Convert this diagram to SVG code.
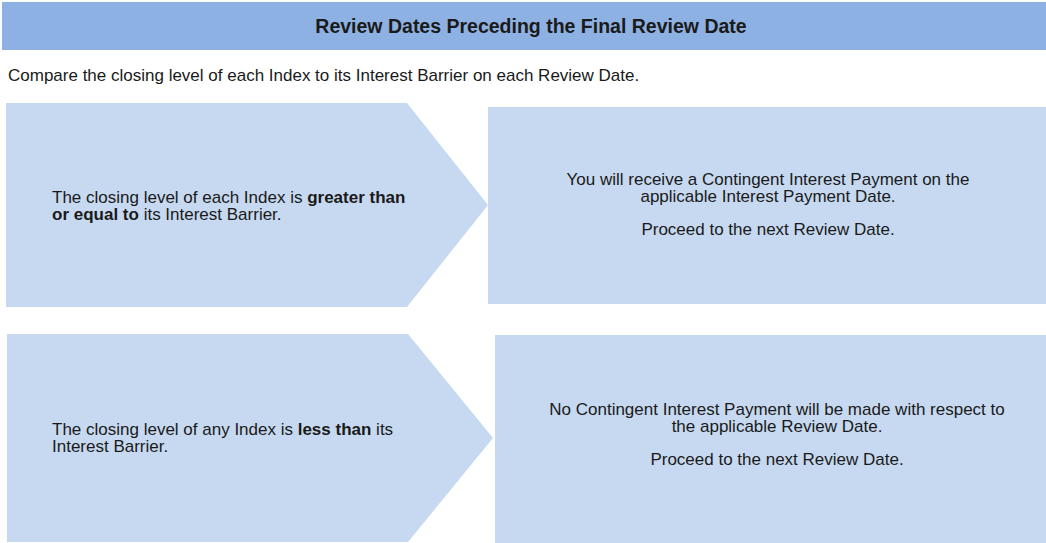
<svg xmlns="http://www.w3.org/2000/svg" width="1046" height="543" viewBox="0 0 1046 543">
<style>
.box{fill:#C6D9F0;}
.hdr{fill:#8EB1E3;}
text{font-family:"Liberation Sans",Arial,sans-serif;font-size:17px;fill:#1a1a1a;}
.t{font-size:19.5px;}
.b{font-weight:bold;}
.c{text-anchor:middle;}
</style>
<rect width="1046" height="543" fill="#ffffff"/>
<g id="header">
<rect class="hdr" x="2" y="2" width="1044" height="48"/>
<text class="t b c" x="531" y="33">Review Dates Preceding the Final Review Date</text>
</g>
<g id="intro">
<text x="8" y="81">Compare the closing level of each Index to its Interest Barrier on each Review Date.</text>
</g>
<g id="cond1">
<polygon class="box" points="6,103 407,103 488,205 407,307 6,307"/>
<text x="52" y="202.5">The closing level of each Index is <tspan class="b">greater than</tspan></text>
<text x="52" y="219.5"><tspan class="b">or equal to</tspan> its Interest Barrier.</text>
</g>
<g id="result1">
<rect class="box" x="488" y="107" width="558" height="197"/>
<text class="c" x="768" y="184.5">You will receive a Contingent Interest Payment on the</text>
<text class="c" x="768" y="201.5">applicable Interest Payment Date.</text>
<text class="c" x="768" y="235">Proceed to the next Review Date.</text>
</g>
<g id="cond2">
<polygon class="box" points="7,334 408,334 493,438 408,542 7,542"/>
<text x="52" y="434.5">The closing level of any Index is <tspan class="b">less than</tspan> its</text>
<text x="52" y="451.5">Interest Barrier.</text>
</g>
<g id="result2">
<rect class="box" x="495" y="335" width="551" height="208"/>
<text class="c" x="777" y="414.5">No Contingent Interest Payment will be made with respect to</text>
<text class="c" x="777" y="431.5">the applicable Review Date.</text>
<text class="c" x="777" y="465">Proceed to the next Review Date.</text>
</g>
<g id="connectors"></g>
</svg>
